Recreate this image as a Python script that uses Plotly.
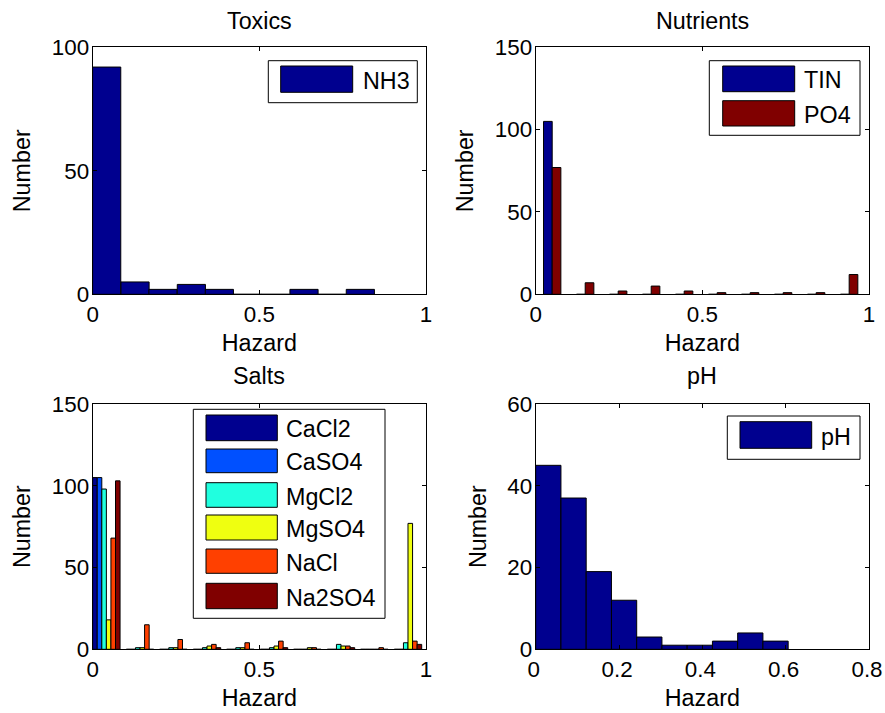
import plotly.graph_objects as go

# ---------------- data ----------------
hazard_toxics = [0.042, 0.127, 0.211, 0.296, 0.380, 0.465, 0.549, 0.634, 0.718, 0.803]
nh3_counts = [92, 5, 2, 4, 2, 0, 0, 2, 0, 2]

hazard_nutrients = [0.0495, 0.1485, 0.2475, 0.3465, 0.4455, 0.5445, 0.6435, 0.7425, 0.8415, 0.9405]
tin_counts = [105, 0, 0, 0, 0, 0, 0, 0, 0, 0]
po4_counts = [77, 7, 2, 5, 2, 1, 1, 1, 1, 12]

hazard_salts = [0.041, 0.142, 0.242, 0.343, 0.443, 0.544, 0.644, 0.745, 0.845, 0.946]
cacl2_counts = [105, 0, 0, 0, 0, 0, 0, 0, 0, 0]
caso4_counts = [105, 0, 0, 0, 0, 0, 0, 0, 0, 0]
mgcl2_counts = [98, 1, 1, 1, 1, 1, 0, 3, 0, 4]
mgso4_counts = [18, 1, 1, 2, 1, 2, 1, 2, 0, 77]
nacl_counts = [68, 15, 6, 3, 4, 5, 1, 2, 1, 5]
na2so4_counts = [103, 0, 0, 1, 0, 1, 0, 1, 0, 3]

hazard_ph = [0.0303, 0.0909, 0.1515, 0.2121, 0.2727, 0.3333, 0.3939, 0.4545, 0.5151, 0.5757]
ph_counts = [45, 37, 19, 12, 3, 1, 1, 2, 4, 2]

salt_names = ["CaCl2", "CaSO4", "MgCl2", "MgSO4", "NaCl", "Na2SO4"]
salt_series = [cacl2_counts, caso4_counts, mgcl2_counts, mgso4_counts, nacl_counts, na2so4_counts]

# ---------------- style ----------------
W, H = 885, 713
FONT = "Liberation Sans, Arial, Helvetica, sans-serif"
NAVY = "#00008F"
MAROON = "#800000"
salt_colors = ["#00008F", "#0050FF", "#20FFDF", "#EFFF10", "#FF4000", "#800000"]
OUT = dict(color="black", width=1)


def px(x):
    return x / W


def py(y):
    return 1 - y / H


fig = go.Figure()

# Toxics
fig.add_trace(go.Bar(x=hazard_toxics, y=nh3_counts, name="NH3", width=0.0845,
                     marker=dict(color=NAVY, line=OUT), xaxis="x", yaxis="y"))
# Nutrients
fig.add_trace(go.Bar(x=hazard_nutrients, y=tin_counts, name="TIN", width=0.026, offset=-0.026,
                     marker=dict(color=NAVY, line=OUT), xaxis="x2", yaxis="y2"))
fig.add_trace(go.Bar(x=hazard_nutrients, y=po4_counts, name="PO4", width=0.026, offset=0.0,
                     marker=dict(color=MAROON, line=OUT), xaxis="x2", yaxis="y2"))
# Salts
sw = 0.0137
for i, (nm, vals) in enumerate(zip(salt_names, salt_series)):
    fig.add_trace(go.Bar(x=hazard_salts, y=vals, name=nm, width=sw, offset=(i - 3) * sw,
                         marker=dict(color=salt_colors[i], line=OUT), xaxis="x3", yaxis="y3"))
# pH
fig.add_trace(go.Bar(x=hazard_ph, y=ph_counts, name="pH", width=0.0606,
                     marker=dict(color=NAVY, line=OUT), xaxis="x4", yaxis="y4"))

# axes geometry (pixels in the 885x713 window)
L1, R1 = 92.7, 426.0
L2, R2 = 535.7, 869.0
T1, B1 = 47.3, 294.3
T2, B2 = 404.0, 649.3

axcommon = dict(showline=True, linecolor="black", linewidth=1, mirror="ticks",
                ticks="inside", ticklen=4, tickcolor="black", showgrid=False,
                zeroline=False, tickfont=dict(family=FONT, size=22.4, color="black"),
                fixedrange=True, automargin=False)
xt = dict(text="Hazard", font=dict(family=FONT, size=23.3, color="black"), standoff=8)
yt = dict(text="Number", font=dict(family=FONT, size=23.3, color="black"), standoff=14)

layout = dict(
    width=W, height=H, margin=dict(l=0, r=0, t=0, b=0, autoexpand=False),
    paper_bgcolor="white", plot_bgcolor="white", barmode="overlay",
    showlegend=False, font=dict(family=FONT, color="black"),
    xaxis=dict(domain=[px(L1), px(R1)], range=[0, 1], dtick=0.5, anchor="y", title=xt, **axcommon),
    yaxis=dict(domain=[py(B1), py(T1)], range=[0, 100], dtick=50, anchor="x", title=yt,
               ticklabelstandoff=-2, **axcommon),
    xaxis2=dict(domain=[px(L2), px(R2)], range=[0, 1], dtick=0.5, anchor="y2", title=xt, **axcommon),
    yaxis2=dict(domain=[py(B1), py(T1)], range=[0, 150], dtick=50, anchor="x2", title=yt,
                ticklabelstandoff=-2, **axcommon),
    xaxis3=dict(domain=[px(L1), px(R1)], range=[0, 1], dtick=0.5, anchor="y3", title=xt, **axcommon),
    yaxis3=dict(domain=[py(B2), py(T2)], range=[0, 150], dtick=50, anchor="x3", title=yt,
                ticklabelstandoff=-2, **axcommon),
    xaxis4=dict(domain=[px(L2), px(R2)], range=[0, 0.8], dtick=0.2, anchor="y4", title=xt,
                ticklabelshift=-2, **axcommon),
    yaxis4=dict(domain=[py(B2), py(T2)], range=[0, 60], dtick=20, anchor="x4", title=yt,
                ticklabelstandoff=-2, **axcommon),
)
fig.update_layout(**layout)

annotations = []
shapes = []

# subplot titles
for text, cx, cy in [("Toxics", (L1 + R1) / 2, 21), ("Nutrients", (L2 + R2) / 2, 21),
                     ("Salts", (L1 + R1) / 2, 375.5), ("pH", (L2 + R2) / 2, 375.5)]:
    annotations.append(dict(text=text, x=px(cx), y=py(cy), xref="paper", yref="paper",
                            xanchor="center", yanchor="middle", showarrow=False,
                            font=dict(family=FONT, size=23.3, color="black")))


# custom MATLAB-style legends
def legend_box(box, sw_x, items, text_x):
    x0, y0, x1, y1 = box
    shapes.append(dict(type="rect", xref="paper", yref="paper", x0=px(x0), x1=px(x1),
                       y0=py(y1), y1=py(y0), fillcolor="white", line=dict(color="black", width=1),
                       layer="above"))
    for (label, color, sy0, sy1) in items:
        shapes.append(dict(type="rect", xref="paper", yref="paper", x0=px(sw_x[0]), x1=px(sw_x[1]),
                           y0=py(sy1), y1=py(sy0), fillcolor=color,
                           line=dict(color="black", width=1), layer="above"))
        annotations.append(dict(text=label, x=px(text_x), y=py((sy0 + sy1) / 2 + 1.5),
                                xref="paper", yref="paper", xanchor="left", yanchor="middle",
                                showarrow=False, font=dict(family=FONT, size=23.3, color="black")))


legend_box((268.3, 60.7, 417.3, 102.7), (280.7, 352.7), [("NH3", NAVY, 66, 92.3)], 360.5)
legend_box((709.3, 60.7, 860, 135.3), (722.7, 794.7),
           [("TIN", NAVY, 66, 91.7), ("PO4", MAROON, 100.7, 126)], 801.5)
salt_rows = [(415, 440.7), (449, 472.7), (482.7, 507.3), (515, 540), (549, 573.3), (583.3, 608.7)]
legend_box((193.3, 409.3, 385, 618.3), (206, 277.3),
           [(n, c, a, b) for n, c, (a, b) in zip(salt_names, salt_colors, salt_rows)], 283.5)
legend_box((727.3, 416, 860, 459.3), (740, 811.7), [("pH", NAVY, 421.7, 448.3)], 819)

fig.update_layout(annotations=annotations, shapes=shapes)
fig.write_html("out.html", config=dict(displayModeBar=False),
               post_script="document.body.style.margin='0';document.body.style.overflow='hidden';")
